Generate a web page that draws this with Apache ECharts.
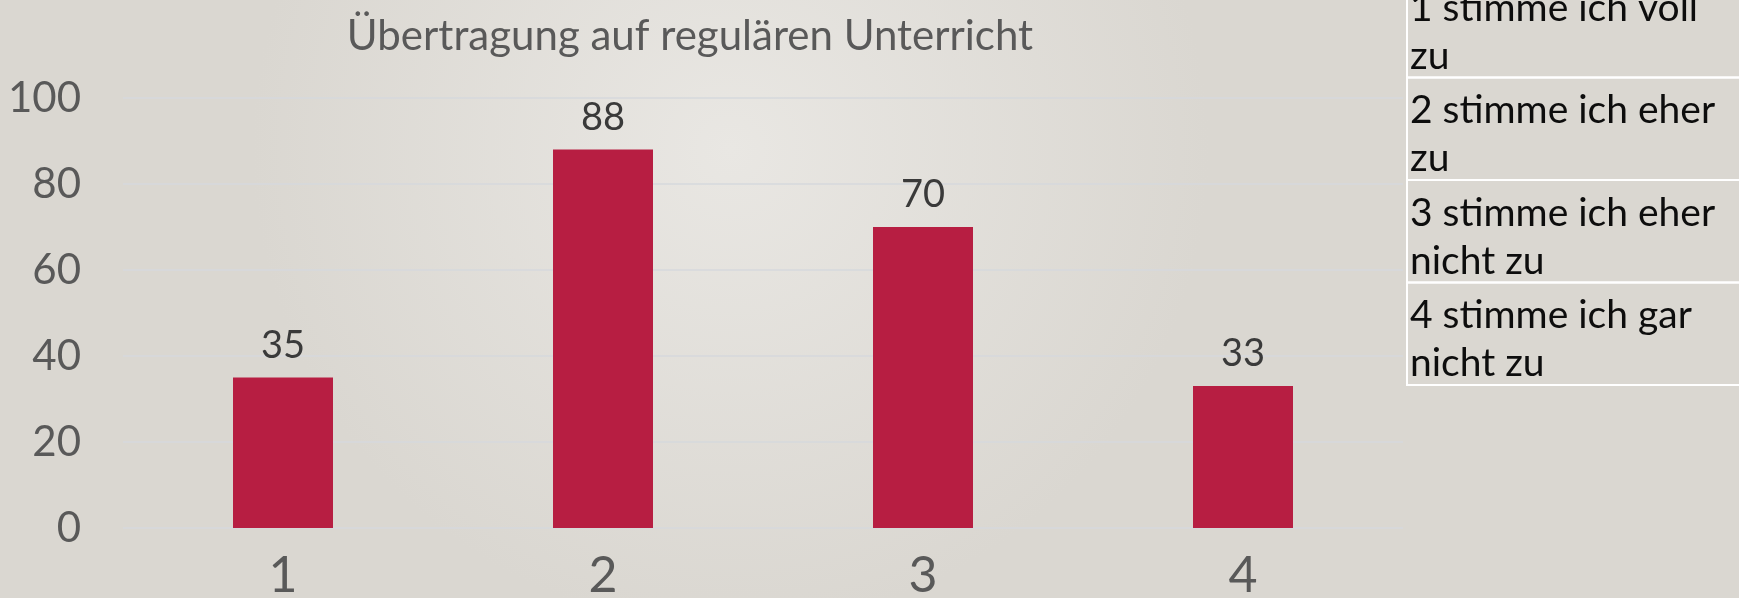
<!DOCTYPE html>
<html>
<head>
<meta charset="utf-8">
<style>
  html, body { margin: 0; padding: 0; }
  #main { width: 1739px; height: 598px; }
</style>
<script src="https://cdn.jsdelivr.net/npm/echarts@6/dist/echarts.min.js"></script>
</head>
<body>
<div id="main"></div>
<script>
var chartTitle = 'Übertragung auf regulären Unterricht'
var categories = ['1', '2', '3', '4']
var values = [35, 88, 70, 33]
var yTicks = [0, 20, 40, 60, 80, 100]
var legendRows = [
    '1 stimme ich voll\nzu',
    '2 stimme ich eher\nzu',
    '3 stimme ich eher\nnicht zu',
    '4 stimme ich gar\nnicht zu'
]

var font = 'Lato'

// Tabelle rechts (Legende)
function buildTable() {
    var items = []
    var rowTop = -25, rowH = 102.5, x0 = 1407
    legendRows.forEach(function (txt, i) {
        var y = rowTop + i * rowH
        items.push({
            type: 'rect',
            shape: { x: x0, y: y, width: 400, height: rowH },
            style: { fill: 'none', stroke: '#ffffff', lineWidth: 2 }
        })
        items.push({
            type: 'text',
            x: x0 + 3,
            y: y + 9,
            style: {
                text: txt,
                font: '39px ' + font,
                lineHeight: 48,
                fill: '#0d0d0d',
                verticalAlign: 'top'
            }
        })
    })
    return items
}

var myChart = echarts.init(document.getElementById('main'))

var option = {
    backgroundColor: {
        type: 'radial', x: 0.42, y: 0.25, r: 0.8,
        colorStops: [
            { offset: 0, color: '#e9e7e3' },
            { offset: 1, color: '#dad7d1' }
        ]
    },
    textStyle: { fontFamily: font },
    grid: { left: 123, right: 336, top: 98, bottom: 70, containLabel: false, outerBoundsMode: 'none' },
    xAxis: {
        type: 'category',
        data: categories,
        axisLine: { show: false },
        axisTick: { show: false },
        axisLabel: { fontSize: 50, color: '#595959', margin: 23 }
    },
    yAxis: {
        type: 'value',
        min: yTicks[0],
        max: yTicks[yTicks.length - 1],
        interval: yTicks[1] - yTicks[0],
        axisLine: { show: false },
        axisTick: { show: false },
        axisLabel: { fontSize: 42, color: '#595959', margin: 42 },
        splitLine: { lineStyle: { color: '#d6d9dc', width: 1.5 } }
    },
    series: [{
        type: 'bar',
        data: values,
        barWidth: 100,
        itemStyle: { color: '#b71e42' },
        label: {
            show: true,
            position: 'top',
            distance: 13,
            fontSize: 38,
            color: '#3a3a3a'
        }
    }],
    graphic: [{
        type: 'text',
        x: 690,
        y: 36,
        style: {
            text: chartTitle,
            font: '42px ' + font,
            fill: '#595959',
            align: 'center',
            verticalAlign: 'middle'
        }
    }].concat(buildTable())
}

myChart.setOption(option)
</script>
</body>
</html>
